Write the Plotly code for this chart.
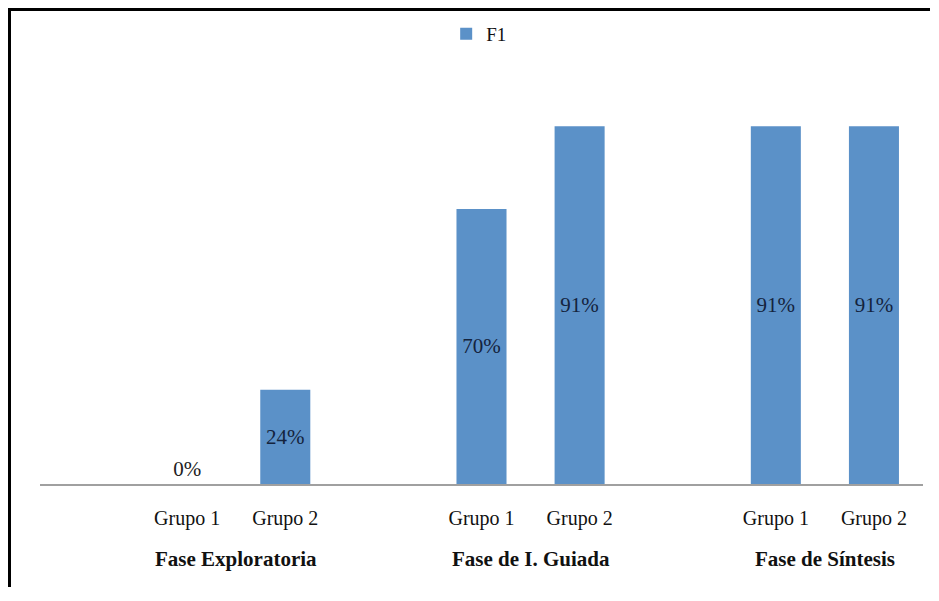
import plotly.graph_objects as go

phases = ["Fase Exploratoria", "Fase de I. Guiada", "Fase de Síntesis"]
groups = ["Grupo 1", "Grupo 2"]
values = [[0, 24], [70, 91], [91, 91]]
labels = [["0%", "24%"], ["70%", "91%"], ["91%", "91%"]]
series_name = "F1"

BAR = "#5b91c8"
FONT = "Liberation Serif, Times New Roman, serif"

# category slots: a spacer before each phase, then its groups
cats, xs, ys, texts, tpos = [], [], [], [], []
tickvals, ticktext = [], []
phase_pos = []
for pi, ph in enumerate(phases):
    cats.append(f"_sp{pi}")
    start = len(cats)
    for gi, g in enumerate(groups):
        cid = f"{ph}|{g}"
        cats.append(cid)
        xs.append(cid)
        ys.append(values[pi][gi])
        texts.append(labels[pi][gi])
        tpos.append("outside" if values[pi][gi] == 0 else "inside")
        tickvals.append(cid)
        ticktext.append(g)
    phase_pos.append((start + len(cats) - 1) / 2)

fig = go.Figure()
fig.add_trace(go.Bar(
    x=xs, y=ys, name=series_name,
    marker=dict(color=BAR, line=dict(width=0)),
    text=texts, textposition=tpos, insidetextanchor="middle",
    textangle=0, cliponaxis=False,
    textfont=dict(family=FONT, size=21, color="#14233d"),
    outsidetextfont=dict(family=FONT, size=21, color="#222222"),
    insidetextfont=dict(family=FONT, size=21, color="#14233d"),
    showlegend=True,
))

for ph, pos in zip(phases, phase_pos):
    fig.add_annotation(
        x=pos, y=-0.191, xref="x", yref="paper", text=f"<b>{ph}</b>",
        showarrow=False, yanchor="middle", xanchor="center",
        font=dict(family=FONT, size=21, color="#111111"),
    )

# outer frame: only left and top borders are visible in the crop
x_left = -32 / 883
y_top = 476 / 393
fig.add_shape(type="line", xref="paper", yref="paper",
              x0=x_left, x1=x_left, y0=-1.0, y1=y_top,
              line=dict(color="#000000", width=6), layer="above")
fig.add_shape(type="line", xref="paper", yref="paper",
              x0=x_left, x1=1.5, y0=y_top, y1=y_top,
              line=dict(color="#000000", width=6), layer="above")

fig.update_layout(
    width=922, height=579,
    margin=dict(l=32, r=7, t=83, b=103),
    paper_bgcolor="white", plot_bgcolor="white",
    bargap=0.49,
    font=dict(family=FONT, size=18, color="#111111"),
    showlegend=True,
    legend=dict(orientation="h", x=0.46, y=1.145, xanchor="left", yanchor="middle",
                font=dict(family=FONT, size=19, color="#111111"),
                itemwidth=30, bgcolor="rgba(0,0,0,0)"),
    xaxis=dict(type="category", categoryorder="array", categoryarray=cats,
               tickvals=tickvals, ticktext=ticktext, showgrid=False,
               showline=True, linecolor="#a0a0a0", linewidth=2,
               ticks="", ticklabelstandoff=15,
               tickfont=dict(family=FONT, size=20, color="#111111"),
               range=[-0.5, len(cats) - 0.5], zeroline=False),
    yaxis=dict(range=[0, 100], visible=False, showgrid=False, zeroline=False),
)

fig.write_html("out.html")
